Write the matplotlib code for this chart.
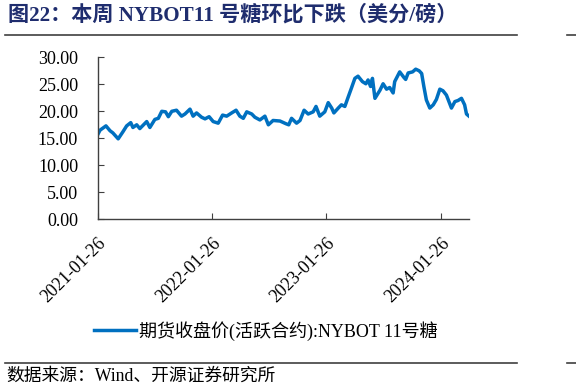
import matplotlib
matplotlib.use("Agg")
import matplotlib.pyplot as plt
import pandas as pd

dates = ["2021-01-26","2021-02-03","2021-02-22","2021-03-07","2021-03-16","2021-04-02","2021-04-17",
         "2021-04-29","2021-05-12","2021-05-19","2021-05-31","2021-06-10","2021-07-02","2021-07-12",
         "2021-07-28","2021-08-08","2021-08-19","2021-08-31","2021-09-09","2021-09-20","2021-10-05",
         "2021-10-21","2021-11-01","2021-11-17","2021-11-27","2021-12-08","2021-12-24","2022-01-04",
         "2022-01-17","2022-01-30","2022-02-15","2022-03-01","2022-03-14","2022-03-30","2022-04-13",
         "2022-04-25","2022-05-06","2022-05-17","2022-06-02","2022-06-12","2022-06-28","2022-07-14",
         "2022-07-25","2022-08-09","2022-08-31","2022-09-19","2022-09-28","2022-10-07","2022-10-23",
         "2022-11-03","2022-11-16","2022-11-29","2022-12-15","2022-12-24","2023-01-05","2023-01-21",
         "2023-02-01","2023-02-12","2023-02-19","2023-03-05","2023-03-15","2023-03-26","2023-04-06",
         "2023-04-16","2023-04-27","2023-05-07","2023-05-21","2023-06-01","2023-06-08","2023-06-16",
         "2023-06-22","2023-06-30","2023-07-16","2023-07-26","2023-08-06","2023-08-16","2023-08-27",
         "2023-09-01","2023-09-17","2023-09-30","2023-10-06","2023-10-14","2023-10-28","2023-11-07",
         "2023-11-18","2023-11-26","2023-12-03","2023-12-11","2023-12-22","2024-01-02","2024-01-12",
         "2024-01-23","2024-02-02","2024-02-13","2024-02-21","2024-02-29","2024-03-11","2024-03-21",
         "2024-04-01","2024-04-11","2024-04-17","2024-04-25"]
prices = [15.6,16.5,17.3,16.4,16.0,14.9,16.2,
          17.3,17.9,17.0,17.5,16.8,18.1,17.0,
          18.5,18.7,20.0,19.9,19.0,20.0,20.2,
          19.1,19.5,20.4,19.1,19.7,18.9,18.6,
          19.0,18.1,17.8,19.3,19.1,19.7,20.2,
          19.1,18.7,19.9,19.5,18.9,18.4,19.1,
          17.5,18.3,18.2,17.7,17.5,18.7,17.8,
          18.3,20.2,19.5,19.9,20.9,19.1,19.9,
          21.6,20.6,19.7,20.6,21.2,20.9,22.7,
          24.3,26.1,26.5,25.5,25.1,25.8,24.6,
          26.1,22.4,23.9,25.1,24.1,24.4,23.4,
          25.5,27.3,26.3,25.9,27.1,27.3,27.8,
          27.5,27.0,24.6,22.1,20.6,21.2,22.2,
          24.1,23.8,23.0,21.8,20.6,21.8,22.0,
          22.4,21.2,19.5,19.1]
tick_dates = ["2021-01-26", "2022-01-26", "2023-01-26", "2024-01-26"]
yticks = [0, 5, 10, 15, 20, 25, 30]

title = "图22：本周 NYBOT11 号糖环比下跌（美分/磅）"
series_name = "期货收盘价(活跃合约):NYBOT 11号糖"
source = "数据来源：Wind、开源证券研究所"

fam = ["Liberation Serif", "Noto Sans CJK SC"]
plt.rcParams["font.family"] = fam

fig = plt.figure(figsize=(5.76, 3.89), dpi=100)
ax = fig.add_axes([97.5/576, 1-219.3/389, (469-97.5)/576, (219.3-57.3)/389])

x = pd.to_datetime(dates)
line, = ax.plot(x, prices, color="#0070C0", lw=2.5, solid_joinstyle="round")
ax.set_xlim(x[0], x[-1])
ax.set_ylim(0, 30)
ax.set_yticks(yticks)
ax.set_yticklabels([f"{v:.2f}" for v in yticks])
ax.set_xticks(pd.to_datetime(tick_dates))
ax.set_xticklabels(tick_dates, rotation=45, ha="right", va="top", rotation_mode="anchor")
for s in ["top", "right"]:
    ax.spines[s].set_visible(False)
for s in ["left", "bottom"]:
    ax.spines[s].set_color("#404040")
    ax.spines[s].set_linewidth(1.0)
ax.tick_params(axis="both", direction="in", length=4, color="#404040", labelsize=13, labelcolor="black")
ax.tick_params(axis="x", pad=11)
ax.tick_params(axis="y", pad=14)

leg = fig.legend([line], [series_name], loc="center", bbox_to_anchor=(266/576, 1-331/389),
                 frameon=False, fontsize=13, handlelength=2.3, handletextpad=0.2)

fig.text(8/576, 1-15/389, title, fontsize=15.2, fontweight="bold", color="#1F2D6E", va="center", ha="left")
for yy in (35, 363):
    fig.add_artist(plt.Line2D([5/576, 517/576], [1-yy/389, 1-yy/389], color="#404040", lw=1.2))
    fig.add_artist(plt.Line2D([567/576, 1.0], [1-yy/389, 1-yy/389], color="#404040", lw=1.2))
fig.text(6/576, 1-376/389, source, fontsize=12.8, color="black", va="center", ha="left")

fig.savefig("out.png", dpi=100)
